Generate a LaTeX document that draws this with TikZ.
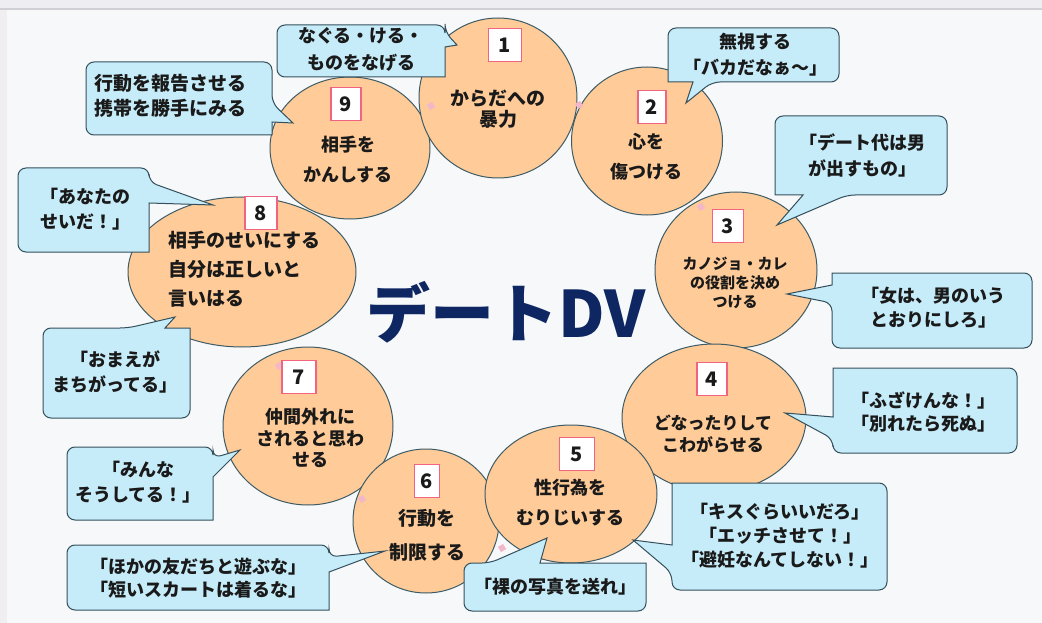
\documentclass[tikz,border=0pt]{standalone}
\usepackage{fontspec}
\usetikzlibrary{shapes.geometric}
\newfontfamily\jp{Noto Sans CJK JP}
\newcommand\myfs[2]{\fontsize{#1}{#2}\selectfont}
\definecolor{bg}{HTML}{F7F8FA}
\definecolor{topstrip}{HTML}{EDEDF2}
\definecolor{topline}{HTML}{CFCFD5}
\definecolor{leftstrip}{HTML}{F1EEF1}
\definecolor{peach}{HTML}{FFCB98}
\definecolor{cedge}{HTML}{3D5C66}
\definecolor{sky}{HTML}{C7ECF9}
\definecolor{sedge}{HTML}{34505C}
\definecolor{pinkb}{HTML}{F06482}
\definecolor{navy}{HTML}{0E2762}
\definecolor{ink}{HTML}{1A1A1A}
\definecolor{markc}{HTML}{F2B8CA}
\tikzset{
  circ/.style={ellipse, draw=cedge, fill=peach, line width=1pt, inner sep=0pt},
  numbox/.style={draw=pinkb, fill=white, line width=1.2pt, minimum height=33pt,
    minimum width=31pt, inner sep=0pt, text=ink, font=\jp\bfseries\myfs{20}{20}},
  ctext/.style={align=center, text=ink, inner sep=0pt},
  callout/.style={draw=sedge, fill=sky, line width=1pt, rounded corners=8pt},
  ltext/.style={align=center, text=ink, inner sep=0pt},
  pmark/.style={fill=markc},
}
\begin{document}
\begin{tikzpicture}[x=1pt,y=-1pt]
\useasboundingbox (0,0) rectangle (1042,623);
\fill[bg] (0,0) rectangle (1042,623);
\fill[topstrip] (0,0) rectangle (1042,8);
\fill[topline] (0,8) rectangle (1042,10);
\fill[leftstrip] (0,10) rectangle (7,623);

% circles
\node[circ, minimum width=160pt, minimum height=142pt] (c9) at (350,148) {};
\node[circ, minimum width=158pt, minimum height=160pt] (c1) at (498,98) {};
\node[circ, minimum width=151pt, minimum height=148pt] (c2) at (647,141) {};
\node[circ, minimum width=162pt, minimum height=156pt] (c3) at (736,270) {};
\node[circ, minimum width=228pt, minimum height=150pt] (c8) at (242,272) {};
\node[circ, minimum width=170pt, minimum height=158pt] (c7) at (308,426) {};
\node[circ, minimum width=146pt, minimum height=144pt] (c6) at (426,521) {};
\node[circ, minimum width=184pt, minimum height=148pt] (c4) at (714,418) {};
\node[circ, minimum width=172pt, minimum height=138pt] (c5) at (571,494) {};

% small marks
\foreach \mx/\my [count=\k] in {431/106, 579/105, 701/207, 362/499, 502/548, 279/366}
  \fill[pmark, rotate around={30:(\mx,\my)}] (\mx-3,\my-3) rectangle (\mx+3,\my+3);

% number boxes
\node[numbox, minimum width=33pt] (n1) at (505,45) {1};
\node[numbox, minimum width=28pt] (n2) at (652,107) {2};
\node[numbox] (n3) at (728,226) {3};
\node[numbox, minimum width=30pt] (n4) at (712,379) {4};
\node[numbox, minimum width=35pt] (n5) at (577,454) {5};
\node[numbox, minimum width=25pt] (n6) at (427,481) {6};
\node[numbox, minimum width=34pt] (n7) at (299,377) {7};
\node[numbox, minimum width=32pt] (n8) at (261,213) {8};
\node[numbox, minimum width=30pt] (n9) at (346,104) {9};

% circle texts
\node[ctext, font=\jp\bfseries\myfs{19}{21}] (t1) at (498,109) {からだへの\\暴力};
\node[ctext, font=\jp\bfseries\myfs{18}{30}] (t2) at (646,157) {心を\\傷つける};
\node[ctext, font=\jp\bfseries\myfs{15}{19}] (t3) at (735,283) {カノジョ・カレ\\の役割を決め\\つける};
\node[ctext, font=\jp\bfseries\myfs{17}{22}] (t4) at (713,434) {どなったりして\\こわがらせる};
\node[ctext, font=\jp\bfseries\myfs{18}{30}] (t5) at (570,503) {性行為を\\むりじいする};
\node[ctext, font=\jp\bfseries\myfs{19}{34}] (t6) at (427,535) {行動を\\制限する};
\node[ctext, font=\jp\bfseries\myfs{18}{21.5}] (t7) at (310,438) {仲間外れに\\されると思わ\\せる};
\node[ctext, align=left, anchor=west, font=\jp\bfseries\myfs{19}{29}] (t8) at (168,269) {相手のせいにする\\自分は正しいと\\言いはる};
\node[ctext, font=\jp\bfseries\myfs{18}{30}] (t9) at (348,160) {相手を\\かんしする};

% title
\node[text=navy, anchor=base, inner sep=0pt, font=\jp\bfseries\myfs{64}{64}] (title) at (506,337) {デートDV};

% callouts
\path[callout] (361,25) -- (445,25) -- (445,32) [sharp corners] -- (457,45) -- (445,47) -- (445,77) [rounded corners=8pt] -- (277,77) -- (277,25) -- cycle;
\node[ltext, font=\jp\bfseries\myfs{18}{27}] (s1) at (361,49) {なぐる・ける・\\ものをなげる};

\path[callout] (839,55) -- (839,82) -- (712,82) [sharp corners] -- (686,103) -- (693,82) -- (668,82) [rounded corners=8pt] -- (668,28) -- (839,28) -- cycle;
\node[ltext, font=\jp\bfseries\myfs{18}{26}] (s2) at (755,55) {無視する\\「バカだなぁ～」};

\path[callout] (947,155) -- (947,195) -- (847,195) [sharp corners] -- (777,225) -- (803,195) -- (775,195) [rounded corners=8pt] -- (775,116) -- (947,116) -- cycle;
\node[ltext, font=\jp\bfseries\myfs{18}{26}] (s3a) at (862,155) {「デート代は男\\が出すもの」};

\path[callout] (932,273) -- (1032,273) -- (1032,348) -- (832,348) -- (832,303) [sharp corners] -- (787,294) -- (832,285) -- (832,273) [rounded corners=8pt] -- cycle;
\node[ltext, font=\jp\bfseries\myfs{18}{24}] (s3b) at (933,308) {「女は、男のいう\\とおりにしろ」};

\path[callout] (925,368) -- (1017,368) -- (1017,453) -- (833,453) -- (833,439) [sharp corners] -- (785,413) -- (833,417) -- (833,368) [rounded corners=8pt] -- cycle;
\node[ltext, font=\jp\bfseries\myfs{18}{23}] (s4) at (923,412) {「ふざけんな！」\\「別れたら死ぬ」};

\path[callout] (780,483) -- (887,483) -- (887,590) -- (672,590) -- (672,573) [sharp corners] -- (633,540) -- (672,545) -- (672,483) [rounded corners=8pt] -- cycle;
\node[ltext, font=\jp\bfseries\myfs{18}{24}] (s5a) at (780,536) {「キスぐらいいだろ」\\「エッチさせて！」\\「避妊なんてしない！」};

\path[callout] (555,611) -- (464,611) -- (464,563) -- (490,563) [sharp corners] -- (547,538) -- (540,563) -- (646,563) [rounded corners=8pt] -- (646,611) -- cycle;
\node[ltext, font=\jp\bfseries\myfs{18}{24}] (s5b) at (555,587) {「裸の写真を送れ」};

\path[callout] (197,545) -- (329,545) -- (329,557) [sharp corners] -- (385,551) -- (329,572) -- (329,610) [rounded corners=8pt] -- (67,610) -- (67,545) -- cycle;
\node[ltext, font=\jp\bfseries\myfs{18}{23}] (s6) at (198,578) {「ほかの友だちと遊ぶな」\\「短いスカートは着るな」};

\path[callout] (140,447) -- (213,447) -- (213,458) [sharp corners] -- (240,450) -- (213,477) -- (213,520) [rounded corners=8pt] -- (67,520) -- (67,447) -- cycle;
\node[ltext, font=\jp\bfseries\myfs{18}{25}] (s7) at (138,482) {「みんな\\そうしてる！」};

\path[callout] (115,418) -- (43,418) -- (43,328) -- (128,328) [sharp corners] -- (175,317) -- (165,328) -- (190,328) [rounded corners=8pt] -- (190,418) -- cycle;
\node[ltext, font=\jp\bfseries\myfs{18}{25}] (s8b) at (115,372) {「おまえが\\まちがってる」};

\path[callout] (85,168) -- (149,168) -- (149,182) [sharp corners] -- (213,205) -- (149,203) -- (149,252) [rounded corners=8pt] -- (18,252) -- (18,168) -- cycle;
\node[ltext, font=\jp\bfseries\myfs{18}{25}] (s8a) at (85,209) {「あなたの\\せいだ！」};

\path[callout] (180,62) -- (272,62) -- (272,103) [sharp corners] -- (293,123) -- (272,122) -- (272,135) [rounded corners=8pt] -- (86,135) -- (86,62) -- cycle;
\node[ltext, align=left, font=\jp\bfseries\myfs{19}{25}] (s9) at (170,96) {行動を報告させる\\携帯を勝手にみる};
\end{tikzpicture}
\end{document}
